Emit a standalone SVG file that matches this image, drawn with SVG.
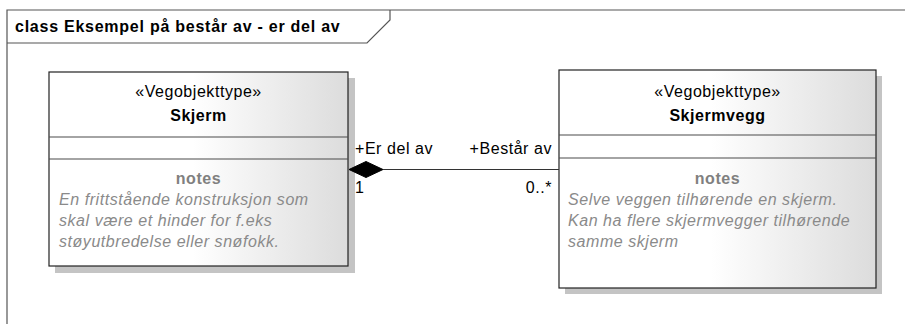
<svg xmlns="http://www.w3.org/2000/svg" width="905" height="324" viewBox="0 0 905 324">
  <style>
    text { font-family: "Liberation Sans", Arial, sans-serif; font-size: 16px; letter-spacing: 0.55px; fill: #000; }
    .title { font-weight: bold; letter-spacing: 0.75px; }
    .stereo { text-anchor: middle; }
    .name { text-anchor: middle; font-weight: bold; }
    .notes-h { text-anchor: middle; font-weight: bold; fill: #808080; }
    .note { font-style: italic; fill: #8a8a8a; }
    .box { fill: url(#classFill); stroke: #222; stroke-width: 1.2; }
    .shadow { fill: #c4c4c4; }
    .sep { stroke: #4a4a4a; stroke-width: 1.2; }
    .frame { fill: none; stroke: #555; stroke-width: 1.2; }
    .link { stroke: #333; stroke-width: 1.2; fill: none; }
  </style>
  <defs>
    <linearGradient id="classFill" x1="0" y1="0" x2="1" y2="0">
      <stop offset="0" stop-color="#ffffff"/>
      <stop offset="0.48" stop-color="#ffffff"/>
      <stop offset="1" stop-color="#dcdcdc"/>
    </linearGradient>
  </defs>

  <rect width="905" height="324" fill="#ffffff"/>

  <!-- diagram frame with name tab -->
  <g id="frame">
    <path class="frame" d="M7,324 V10 H905"/>
    <path class="frame" d="M7,43 H367 L390,20 V10"/>
    <text class="title" x="15" y="32">class Eksempel på består av - er del av</text>
  </g>

  <!-- class Skjerm -->
  <g id="skjerm">
    <rect class="shadow" x="55" y="78" width="300" height="195"/>
    <rect class="box" x="49" y="72" width="299" height="194"/>
    <line class="sep" x1="49" y1="137" x2="348" y2="137"/>
    <line class="sep" x1="49" y1="159" x2="348" y2="159"/>
    <text class="stereo" x="198.5" y="97">«Vegobjekttype»</text>
    <text class="name" x="198.5" y="121">Skjerm</text>
    <text class="notes-h" x="198.5" y="184">notes</text>
    <text class="note" x="59" y="205">En frittstående konstruksjon som</text>
    <text class="note" x="59" y="226">skal være et hinder for f.eks</text>
    <text class="note" x="59" y="247">støyutbredelse eller snøfokk.</text>
  </g>

  <!-- class Skjermvegg -->
  <g id="skjermvegg">
    <rect class="shadow" x="565" y="76" width="317" height="218"/>
    <rect class="box" x="559" y="70" width="317" height="218"/>
    <line class="sep" x1="559" y1="135" x2="876" y2="135"/>
    <line class="sep" x1="559" y1="158" x2="876" y2="158"/>
    <text class="stereo" x="717.5" y="97">«Vegobjekttype»</text>
    <text class="name" x="717.5" y="121">Skjermvegg</text>
    <text class="notes-h" x="717.5" y="184">notes</text>
    <text class="note" x="568" y="205">Selve veggen tilhørende en skjerm.</text>
    <text class="note" x="568" y="226">Kan ha flere skjermvegger tilhørende</text>
    <text class="note" x="568" y="247">samme skjerm</text>
  </g>

  <!-- composition: Skjerm (whole) to Skjermvegg (part) -->
  <g id="connectors">
    <line class="link" x1="383" y1="169.5" x2="559" y2="169.5"/>
    <polygon points="349,169.5 366,161.5 383,169.5 366,177.5" fill="#000" stroke="#000" stroke-width="1"/>
    <text x="355" y="154">+Er del av</text>
    <text x="552" y="154" text-anchor="end">+Består av</text>
    <text x="355" y="193">1</text>
    <text x="552" y="193" text-anchor="end">0..*</text>
  </g>
</svg>
